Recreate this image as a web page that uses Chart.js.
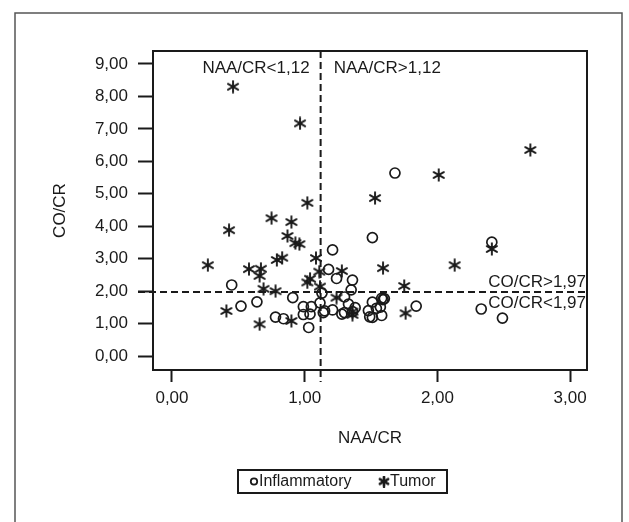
<!DOCTYPE html>
<html>
<head>
<meta charset="utf-8">
<script src="https://cdn.jsdelivr.net/npm/chart.js@4.4.0/dist/chart.umd.min.js"></script>
<style>
    html, body { margin: 0; padding: 0; background: #fff; }
</style>
</head>
<body>
<canvas id="scatter_Chart" width="629" height="522"></canvas>
<script>
// Inflammatory (circles)
const inflammatoryX = [1.68, 1.51, 1.21, 2.41, 1.18, 1.24, 1.36, 0.45, 1.35, 1.13,
                       0.91, 1.30, 0.52, 0.64, 0.99, 1.05, 1.115, 1.21, 1.14, 1.33,
                       1.38, 1.30, 1.36, 0.78, 0.84, 0.99, 1.04, 1.03, 1.48, 1.51,
                       1.51, 1.58, 1.59, 1.60, 1.57, 1.54, 1.58, 1.84, 2.33, 2.49,
                       1.28, 1.49, 1.15];
const inflammatoryY = [5.64, 3.65, 3.27, 3.51, 2.67, 2.39, 2.34, 2.19, 2.04, 1.94,
                       1.80, 1.82, 1.54, 1.67, 1.52, 1.52, 1.64, 1.42, 1.34, 1.60,
                       1.49, 1.34, 1.37, 1.20, 1.15, 1.28, 1.29, 0.88, 1.40, 1.19,
                       1.66, 1.78, 1.74, 1.77, 1.51, 1.47, 1.25, 1.54, 1.45, 1.17,
                       1.29, 1.21, 1.39];

// Tumor (asterisks)
const tumorX = [0.46, 0.965, 1.02, 1.53, 0.75, 0.90, 0.43, 0.87, 0.93, 0.96,
                0.79, 0.83, 1.085, 0.27, 0.58, 0.67, 0.66, 1.11, 1.28, 1.04,
                1.02, 1.115, 0.69, 0.78, 1.24, 0.41, 1.36, 0.90, 0.66, 2.70,
                2.01, 1.59, 2.41, 2.13, 1.75, 1.76, 1.36];
const tumorY = [8.30, 7.17, 4.72, 4.87, 4.25, 4.13, 3.88, 3.70, 3.48, 3.45,
                2.96, 3.03, 3.02, 2.80, 2.68, 2.69, 2.47, 2.60, 2.62, 2.38,
                2.27, 2.14, 2.07, 2.00, 1.80, 1.39, 1.27, 1.08, 0.98, 6.35,
                5.58, 2.71, 3.30, 2.80, 2.16, 1.32, 1.37];

const xTicks = [0, 1, 2, 3];
const xTickLabels = ['0,00', '1,00', '2,00', '3,00'];
const yTicks = [0, 1, 2, 3, 4, 5, 6, 7, 8, 9];
const yTickLabels = ['0,00', '1,00', '2,00', '3,00', '4,00', '5,00', '6,00', '7,00', '8,00', '9,00'];

const naaCut = 1.12;
const coCut = 1.97;

const FONT = "'Liberation Sans', Arial, sans-serif";
const INK = '#1a1a1a';

// 별표 마커
function makeStar(size, lw) {
    const c = document.createElement('canvas');
    c.width = size;
    c.height = size;
    const g = c.getContext('2d');
    g.strokeStyle = INK;
    g.lineWidth = lw;
    g.lineCap = 'round';
    const m = size / 2;
    const r = size / 2 - 1.2;
    [90, 30, 150].forEach(a => {
        const t = a * Math.PI / 180;
        g.beginPath();
        g.moveTo(m + r * Math.cos(t), m - r * Math.sin(t));
        g.lineTo(m - r * Math.cos(t), m + r * Math.sin(t));
        g.stroke();
    });
    return c;
}
const starMark = makeStar(14, 1.9);
const legendStar = makeStar(12, 2.6);

const decorPlugin = {
    id: 'decor',
    beforeDraw(chart) {
        const ctx = chart.ctx;
        ctx.save();
        ctx.fillStyle = '#fff';
        ctx.fillRect(0, 0, chart.width, chart.height);
        ctx.strokeStyle = '#555';
        ctx.lineWidth = 1.5;
        ctx.strokeRect(15, 13, 607, 530);
        ctx.restore();
    },
    beforeDatasetsDraw(chart) {
        const {ctx, chartArea: a, scales: {x, y}} = chart;
        const px = x.getPixelForValue(naaCut);
        const py = y.getPixelForValue(coCut);
        ctx.save();
        ctx.strokeStyle = INK;
        ctx.lineWidth = 2;
        ctx.setLineDash([7, 4]);
        ctx.beginPath();
        ctx.moveTo(px, a.top);
        ctx.lineTo(px, a.bottom + 12);
        ctx.moveTo(a.left - 15, py);
        ctx.lineTo(a.right, py);
        ctx.stroke();
        ctx.restore();
    },
    afterDraw(chart) {
        const {ctx, chartArea: a, scales: {x, y}} = chart;
        const px = x.getPixelForValue(naaCut);
        const py = y.getPixelForValue(coCut);
        ctx.save();
        ctx.strokeStyle = INK;
        ctx.lineWidth = 2;
        ctx.strokeRect(a.left, a.top, a.right - a.left, a.bottom - a.top);

        ctx.fillStyle = INK;
        ctx.font = '17px ' + FONT;
        ctx.textBaseline = 'middle';
        ctx.textAlign = 'right';
        ctx.fillText('NAA/CR<1,12', px - 11, a.top + 17);
        ctx.fillText('CO/CR>1,97', a.right - 1, py - 10);
        ctx.fillText('CO/CR<1,97', a.right - 1, py + 11);
        ctx.textAlign = 'left';
        ctx.fillText('NAA/CR>1,12', px + 13, a.top + 17);

        // 범례
        ctx.lineWidth = 2;
        ctx.strokeRect(238, 470, 209, 23);
        ctx.font = '16px ' + FONT;
        ctx.beginPath();
        ctx.lineWidth = 1.8;
        ctx.arc(254, 481.5, 3.2, 0, Math.PI * 2);
        ctx.stroke();
        ctx.fillText('Inflammatory', 259, 482);
        ctx.drawImage(legendStar, 384 - 6, 481.5 - 6);
        ctx.fillText('Tumor', 390, 482);
        ctx.restore();
    }
};

const ctxScatter = document.getElementById('scatter_Chart').getContext('2d');
new Chart(ctxScatter, {
    type: 'scatter',
    data: {
        datasets: [{
            label: 'Inflammatory',
            data: inflammatoryX.map((v, i) => ({x: v, y: inflammatoryY[i]})),
            pointStyle: 'circle',
            pointRadius: 5,
            borderWidth: 1.7,
            borderColor: INK,
            backgroundColor: 'rgba(0,0,0,0)'
        }, {
            label: 'Tumor',
            data: tumorX.map((v, i) => ({x: v, y: tumorY[i]})),
            pointStyle: starMark,
            pointRadius: 6,
            borderColor: INK
        }]
    },
    options: {
        responsive: false,
        animation: false,
        layout: {
            padding: {top: 51, right: 42, left: 0, bottom: 0}
        },
        plugins: {
            legend: {display: false},
            tooltip: {enabled: false}
        },
        scales: {
            x: {
                type: 'linear',
                min: -0.143,
                max: 3.127,
                afterBuildTicks: s => { s.ticks = xTicks.map(v => ({value: v})); },
                afterFit: s => { s.height = 152; },
                ticks: {
                    callback: v => xTickLabels[xTicks.indexOf(v)],
                    font: {family: FONT, size: 17},
                    color: INK,
                    padding: 6,
                    maxRotation: 0
                },
                grid: {
                    drawOnChartArea: false,
                    tickLength: 12,
                    tickColor: INK,
                    tickWidth: 2
                },
                border: {display: false},
                title: {
                    display: true,
                    text: 'NAA/CR',
                    font: {family: FONT, size: 17},
                    color: INK,
                    padding: {top: 0, bottom: 73}
                }
            },
            y: {
                type: 'linear',
                min: -0.43,
                max: 9.40,
                afterBuildTicks: s => { s.ticks = yTicks.map(v => ({value: v})); },
                afterFit: s => { s.width = 153; },
                ticks: {
                    callback: v => yTickLabels[yTicks.indexOf(v)],
                    font: {family: FONT, size: 17},
                    color: INK,
                    padding: 10
                },
                grid: {
                    drawOnChartArea: false,
                    tickLength: 15,
                    tickColor: INK,
                    tickWidth: 2
                },
                border: {display: false},
                title: {
                    display: true,
                    text: 'CO/CR',
                    font: {family: FONT, size: 17},
                    color: INK,
                    padding: {top: 50, bottom: 0}
                }
            }
        }
    },
    plugins: [decorPlugin]
});
</script>
</body>
</html>
